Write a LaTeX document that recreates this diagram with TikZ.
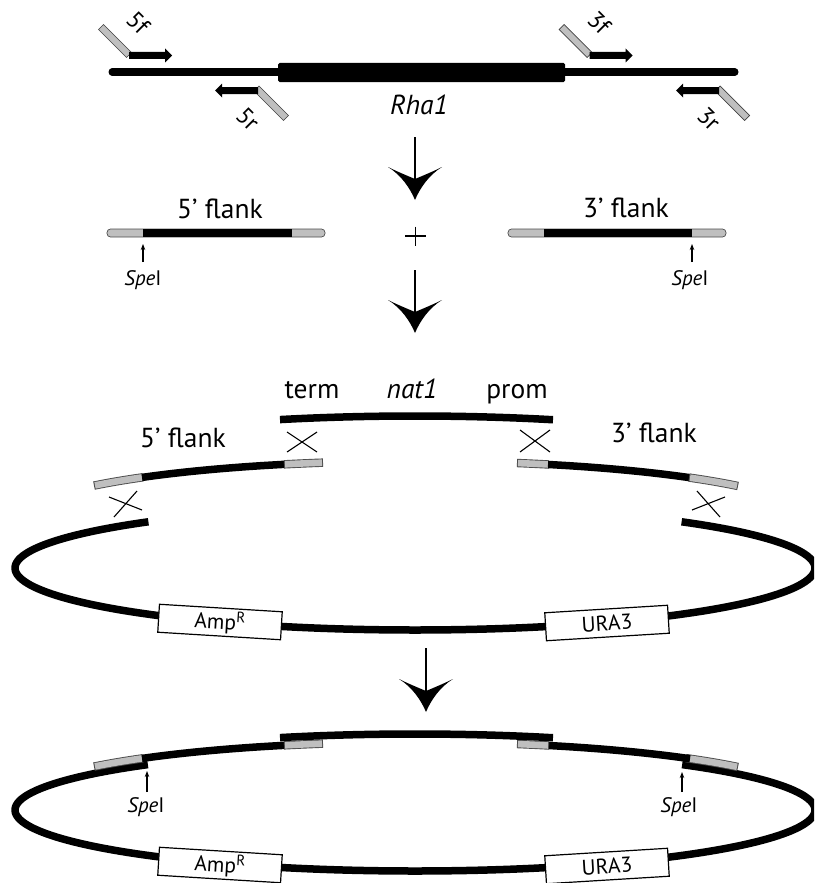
\documentclass[tikz,border=0pt]{standalone}
\usepackage{fontspec}
\setmainfont{PT Sans}
\usetikzlibrary{arrows.meta}
% top part of an ellipse (centre x 415, a=400, b=61): #1 style, #2 centre y, #3 x1, #4 x2
\newcommand{\seg}[4]{\draw[#1] plot[domain=#3:#4, samples=40, smooth] (\x, {#2 - 61*sqrt(1-((\x-415)/400)^2)});}
% grey homology segment with outline: #1 centre y, #2 x1, #3 x2, #4 x1-1, #5 x2+1
\newcommand{\gseg}[5]{\seg{line width=8.4pt, draw=black!70}{#1}{#4}{#5}\seg{line width=6.6pt, draw=gray!50}{#1}{#2}{#3}}
% big process arrow: #1 x, #2 stem top, #3 tip y
\newcommand{\bigarrow}[3]{%
  \draw[line width=1.8pt] (#1,#2) -- (#1,{#3-12});
  \fill (#1,#3) .. controls ({#1-5},{#3-12}) and ({#1-14},{#3-25}) .. ({#1-27},{#3-33})
    .. controls ({#1-17},{#3-28}) and ({#1-7},{#3-24}) .. (#1,{#3-21})
    .. controls ({#1+7},{#3-24}) and ({#1+17},{#3-28}) .. ({#1+27},{#3-33})
    .. controls ({#1+14},{#3-25}) and ({#1+5},{#3-12}) .. cycle;}
\begin{document}
\begin{tikzpicture}[x=1pt,y=-1pt,
  lbl/.style={inner sep=0pt, anchor=base, font=\fontsize{27.5}{30}\selectfont},
  sml/.style={inner sep=0pt, anchor=base, font=\fontsize{21}{24}\selectfont},
  plbl/.style={inner sep=0pt, anchor=center, rotate=-45, font=\fontsize{24}{26}\selectfont},
  boxn/.style={draw, fill=white, line width=1.2pt, minimum width=123pt, minimum height=28pt, inner sep=0pt, font=\fontsize{21.5}{24}\selectfont},
  prim/.style={fill=gray!50, draw=black!75, line width=0.7pt},
  crossl/.style={line width=1.1pt},
  spearr/.style={line width=1.2pt, -{Stealth[length=6pt,width=4.5pt]}},
  rod/.style={line width=7.5pt},
  flankrod/.style={fill=gray!50, draw=black!70, line width=0.7pt, rounded corners=3.5pt},
]
\useasboundingbox (0,0) rectangle (814,883);
\clip (0,0) rectangle (814,883);

% ---------- gene with primers ----------
\draw[line width=7pt, line cap=round] (112,72) -- (735,72);
\fill[rounded corners=1.5pt] (278,63) rectangle (565,82);
\node[lbl] (rha) at (419,114) {\itshape Rha1};

% 5f
\draw[prim] (98.5,29.5) -- (103.5,24.5) -- (131.5,52.5) -- (126.5,57.5) -- cycle;
\fill (129,52) -- (165,52) -- (165,48.5) -- (172,55.5) -- (165,62.5) -- (165,59) -- (129,59) -- cycle;
\node[plbl] (p5f) at (138,23) {5f};
% 5r
\draw[prim] (259,86) -- (254,91) -- (283.5,120.5) -- (288.5,115.5) -- cycle;
\fill (258,87) -- (222,87) -- (222,83.5) -- (215,90.5) -- (222,97.5) -- (222,94) -- (258,94) -- cycle;
\node[plbl] (p5r) at (248,119) {5r};
% 3f
\draw[prim] (559,29.5) -- (564,24.5) -- (592,52.5) -- (587,57.5) -- cycle;
\fill (589.5,52) -- (625.5,52) -- (625.5,48.5) -- (632.5,55.5) -- (625.5,62.5) -- (625.5,59) -- (589.5,59) -- cycle;
\node[plbl] (p3f) at (599,23) {3f};
% 3r
\draw[prim] (720,86) -- (715,91) -- (744.5,120.5) -- (749.5,115.5) -- cycle;
\fill (719,87) -- (683,87) -- (683,83.5) -- (676,90.5) -- (683,97.5) -- (683,94) -- (719,94) -- cycle;
\node[plbl] (p3r) at (709,119) {3r};

\bigarrow{415}{137}{200}

% ---------- PCR flanks ----------
\node[lbl] (f5a) at (220,218) {5’ flank};
\draw[flankrod] (107,229) rectangle (325,237);
\fill (143,229.4) rectangle (292,236.6);
\node[sml] (spe1) at (143,285) {\itshape Spe\upshape I};
\coordinate (spe1t) at (143,244);
\draw[spearr] (143,262) -- (spe1t);

\draw[line width=1.3pt] (405,236) -- (426,236) (415.5,226.5) -- (415.5,245.5);

\node[lbl] (f3a) at (626,217) {3’ flank};
\draw[flankrod] (508,229) rectangle (726,237);
\fill (544,229.4) rectangle (692,236.6);
\node[sml] (spe2) at (690,285) {\itshape Spe\upshape I};
\coordinate (spe2t) at (692,244);
\draw[spearr] (692,262) -- (spe2t);

\bigarrow{415}{270}{333}

% ---------- recombination ----------
\node[lbl] (term) at (312,398) {term};
\node[lbl] (nat) at (412,398) {\itshape nat1};
\node[lbl] (prom) at (517,398) {prom};
\node[lbl] (f5b) at (183,447) {5’ flank};
\node[lbl] (f3b) at (654,442) {3’ flank};

\draw[line width=7.5pt] plot[domain=-48.2:228.2, samples=160, smooth] ({415+400*cos(\x)}, {568+62*sin(\x)});
\seg{rod}{477}{280}{553}
\gseg{522}{95}{142}{94}{143}
\seg{rod}{522}{142}{285}
\gseg{522}{285}{322}{284}{323}
\gseg{522}{518}{548}{517}{549}
\seg{rod}{522}{548}{690}
\gseg{522}{690}{737}{689}{738}

\draw[crossl] (287,432) -- (317,452) (287,452) -- (317,432);
\draw[crossl] (520,430) -- (550,452) (520,452) -- (550,430);
\draw[crossl] (142,510) -- (109,497) (137,491) -- (114,517);
\draw[crossl] (692,510) -- (725,497) (697,491) -- (720,517);

\node[boxn, rotate=-3.5] (amp1) at (220,622) {Amp\textsuperscript{R}};
\node[boxn, rotate=3.5] (ura1) at (607,623) {URA3};

\bigarrow{426}{648}{712}

% ---------- final plasmid ----------
\draw[line width=7.5pt] plot[domain=-48.1:228.1, samples=160, smooth] ({415+400*cos(\x)}, {810+61*sin(\x)});
\gseg{803}{95}{142}{94}{143}
\gseg{803}{687}{737}{686}{738}
\seg{rod}{803}{142}{285}
\seg{rod}{803}{548}{690}
\gseg{803}{285}{322}{284}{323}
\gseg{803}{518}{548}{517}{549}
\seg{rod}{795}{280}{553}

\node[sml] (spe3) at (146,812) {\itshape Spe\upshape I};
\coordinate (spe3t) at (147,771);
\draw[spearr] (147,792) -- (spe3t);
\node[sml] (spe4) at (679,812) {\itshape Spe\upshape I};
\coordinate (spe4t) at (682,772);
\draw[spearr] (682,792) -- (spe4t);

\node[boxn, rotate=-3.5] (amp2) at (220,865) {Amp\textsuperscript{R}};
\node[boxn, rotate=3.5] (ura2) at (607,866) {URA3};
\end{tikzpicture}
\end{document}
